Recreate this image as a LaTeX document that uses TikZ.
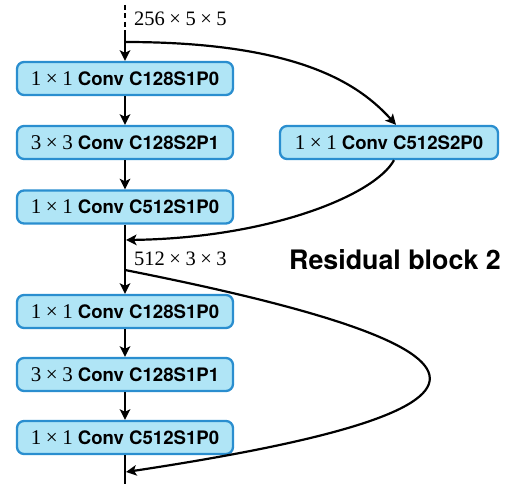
\documentclass[tikz,border=0pt]{standalone}
\usepackage{fontspec}
\setmainfont{Liberation Serif}
\newfontfamily\hv{TeX Gyre Heros}
\usetikzlibrary{arrows.meta}
\definecolor{convfill}{HTML}{B0E5F6}
\definecolor{convedge}{HTML}{2A8ECF}
% kernel size in serif, layer spec in bold sans
\newcommand{\convtext}[2]{{\fontsize{21}{21}\selectfont #1}\hspace{5pt}{\hv\bfseries\fontsize{18.6}{18.6}\selectfont Conv #2}}
\newcommand{\kx}[1]{#1\hspace{0.22em}×\hspace{0.22em}#1}
\tikzset{
  conv/.style={draw=convedge, fill=convfill, line width=2.3pt, rounded corners=7pt,
    minimum width=216pt, minimum height=33pt, inner sep=0pt},
  wire/.style={line width=2.2pt, black},
  link/.style={wire, -{Stealth[length=10.5pt,width=10.5pt,inset=2.5pt]}},
  dimlabel/.style={font=\fontsize{20.5}{20.5}\selectfont, inner sep=0pt, anchor=west},
  blocktitle/.style={font=\hv\bfseries\fontsize{26.8}{26.8}\selectfont, inner sep=0pt}
}
\begin{document}
\begin{tikzpicture}[x=1pt,y=-1pt]
\useasboundingbox (0,0) rectangle (505,484);

% main path
\node[conv] (b1) at (125,78.5) {\convtext{\kx{1}}{C128S1P0}};
\node[conv] (b2) at (125,142.5) {\convtext{\kx{3}}{C128S2P1}};
\node[conv] (b3) at (125,207) {\convtext{\kx{1}}{C512S1P0}};
\node[conv] (b4) at (125,311.5) {\convtext{\kx{1}}{C128S1P0}};
\node[conv] (b5) at (125,374.5) {\convtext{\kx{3}}{C128S1P1}};
\node[conv] (b6) at (125,437.5) {\convtext{\kx{1}}{C512S1P0}};

% projection shortcut
\node[conv, minimum width=218pt] (r) at (389,142.5) {\convtext{\kx{1}}{C512S2P0}};

% tensor shapes and block title
\node[dimlabel] (t1) at (134,18.5) {256\hspace{0.22em}×\hspace{0.22em}5\hspace{0.22em}×\hspace{0.22em}5};
\node[dimlabel] (t2) at (134,259) {512\hspace{0.22em}×\hspace{0.22em}3\hspace{0.22em}×\hspace{0.22em}3};
\node[blocktitle] (ttl) at (395,260) {Residual block 2};

% junction points on the main line
\coordinate (top) at (125,5);
\coordinate (in) at (125,31);
\coordinate (s1) at (125,42);
\coordinate (m1) at (126,240);
\coordinate (s2) at (125,270);
\coordinate (m2) at (126,472);
\coordinate (bot) at (125,484);

\draw[wire, dash pattern=on 5pt off 3.5pt] (top) -- (in);
\draw[link] (in) -- (b1.north);
\draw[link] (b1) -- (b2);
\draw[link] (b2) -- (b3);
\draw[link] (b3) -- (b4);
\draw[link] (b4) -- (b5);
\draw[link] (b5) -- (b6);
\draw[wire] (b6.south) -- (bot);

% skip connections
\draw[link] (s1) .. controls (300,42) and (360,85) .. ([xshift=7pt]r.north);
\draw[link] ([xshift=5pt]r.south) .. controls (375,195) and (270,238) .. (m1);
\draw[link] (s2) .. controls (530,350) and (530,411) .. (m2);
\end{tikzpicture}
\end{document}
